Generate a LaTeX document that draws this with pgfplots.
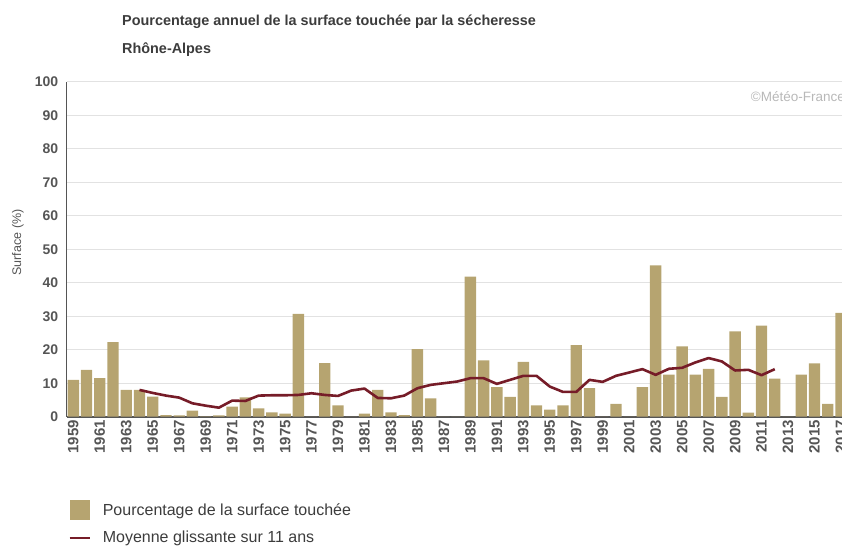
\documentclass[border=0pt]{standalone}
\usepackage{fontspec}
\setmainfont{Liberation Sans}
\usepackage{pgfplots}
\usepackage{pgfplotstable}
\pgfplotsset{compat=1.18}

\definecolor{barcol}{RGB}{182,164,112}
\definecolor{avgcol}{RGB}{118,28,40}
\definecolor{txt}{RGB}{60,60,60}
\definecolor{tickc}{RGB}{85,85,85}
\definecolor{gridc}{RGB}{226,226,226}

% surface touchee (%)
\pgfplotstableread{
annee surface
1959 11.0
1960 14.0
1961 11.5
1962 22.3
1963 8.0
1964 8.0
1965 6.0
1966 0.5
1967 0.4
1968 1.8
1969 0.1
1970 0.4
1971 3.0
1972 5.8
1973 2.5
1974 1.3
1975 0.9
1976 30.7
1977 0
1978 16.0
1979 3.4
1980 0
1981 0.9
1982 8.0
1983 1.3
1984 0.5
1985 20.2
1986 5.5
1987 0
1988 0
1989 41.8
1990 16.8
1991 8.8
1992 5.9
1993 16.4
1994 3.4
1995 2.1
1996 3.4
1997 21.4
1998 8.5
1999 0
2000 3.8
2001 0
2002 8.8
2003 45.2
2004 12.6
2005 21.0
2006 12.6
2007 14.3
2008 5.9
2009 25.5
2010 1.2
2011 27.2
2012 11.4
2013 0
2014 12.6
2015 15.9
2016 3.8
2017 31.0
}\surface

% moyenne glissante sur 11 ans
\pgfplotstableread{
annee moyenne
1964 8.0
1965 7.1
1966 6.3
1967 5.7
1968 4.0
1969 3.3
1970 2.7
1971 4.8
1972 4.7
1973 6.3
1974 6.4
1975 6.4
1976 6.5
1977 7.0
1978 6.5
1979 6.2
1980 7.8
1981 8.4
1982 5.6
1983 5.5
1984 6.3
1985 8.5
1986 9.5
1987 10.0
1988 10.5
1989 11.5
1990 11.5
1991 9.8
1992 11.0
1993 12.2
1994 12.2
1995 9.0
1996 7.4
1997 7.4
1998 11.0
1999 10.4
2000 12.2
2001 13.2
2002 14.2
2003 12.5
2004 14.3
2005 14.6
2006 16.2
2007 17.5
2008 16.5
2009 13.8
2010 14.0
2011 12.4
2012 14.2
}\moyenne

\begin{document}
\begin{tikzpicture}
\path[use as bounding box] (0,0) rectangle (842pt,-547pt);

\node[anchor=base west, inner sep=0pt, text=txt,
  font=\fontsize{14.4}{14.4}\selectfont\bfseries] at (122pt,-25pt)
  {Pourcentage annuel de la surface touchée par la sécheresse};
\node[anchor=base west, inner sep=0pt, text=txt,
  font=\fontsize{14.4}{14.4}\selectfont\bfseries] at (122pt,-53pt)
  {Rhône-Alpes};

\begin{axis}[
  at={(66.7pt,-416.7pt)}, anchor=south west,
  scale only axis, width=775.3pt, height=335pt,
  xmin=1958.5, xmax=2017.08, ymin=0, ymax=100,
  enlargelimits=false,
  xtick={1959,1961,...,2017},
  ytick={0,10,...,100},
  major tick length=0pt,
  ymajorgrids, grid style={gridc, line width=1pt},
  axis x line=bottom, axis y line=left,
  axis line style={-},
  x axis line style={tickc, line width=2pt},
  y axis line style={tickc, line width=1.3pt},
  /pgf/number format/assume math mode=true,
  xticklabel style={rotate=90, anchor=east, text=tickc,
    font=\fontsize{15}{15}\selectfont\bfseries,
    /pgf/number format/1000 sep=},
  yticklabel style={text=tickc, xshift=-5pt,
    font=\fontsize{14}{14}\selectfont\bfseries},
  ylabel={Surface (\%)},
  ylabel style={at={(axis description cs:-0.063,0.52)}, anchor=center,
    rotate=0, text=tickc, font=\fontsize{12.5}{12.5}\selectfont},
  legend style={at={(0.0017,-0.249)}, anchor=north west, draw=none,
    fill=none, inner sep=0pt, row sep=9pt, text=txt,
    font=\fontsize{16}{16}\selectfont,
    /tikz/every odd column/.append style={column sep=10pt}},
  legend cell align=left,
]
\addplot[ybar, bar width=0.86, fill=barcol, draw=none,
  legend image code/.code={\fill[barcol] (0pt,-10pt) rectangle (20pt,10pt);}]
  table[x=annee, y=surface] {\surface};
\addlegendentry{Pourcentage de la surface touchée}
\addplot[avgcol, line width=2.6pt, line join=round, no marks,
  legend image code/.code={\draw[avgcol, line width=2.6pt] (0pt,0pt) -- (20pt,0pt);}]
  table[x=annee, y=moyenne] {\moyenne};
\addlegendentry{Moyenne glissante sur 11 ans}
\end{axis}

\node[anchor=base east, inner sep=0pt, text=black!28,
  font=\fontsize{13.5}{13.5}\selectfont] at (845pt,-101pt)
  {\textcopyright Météo-France};
\end{tikzpicture}
\end{document}
